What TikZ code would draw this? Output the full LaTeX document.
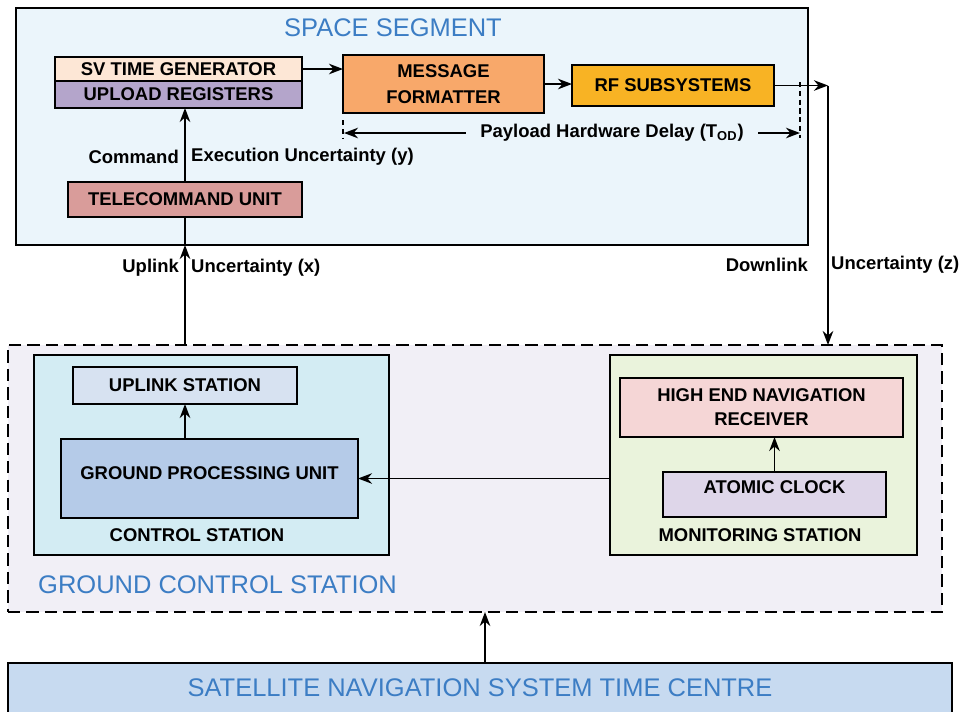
\documentclass[tikz,border=0pt]{standalone}
\usepackage{fontspec}
\setmainfont{Liberation Sans}
\usepackage{tikz}
\usetikzlibrary{%
  arrows.meta%
}

\definecolor{titleblue}{HTML}{3C7DC4}
\definecolor{segfill}{HTML}{EBF5FB}
\definecolor{svfill}{HTML}{FDE7D6}
\definecolor{regfill}{HTML}{B4A5CB}
\definecolor{fmtfill}{HTML}{F8A86A}
\definecolor{rffill}{HTML}{F8B324}
\definecolor{tcfill}{HTML}{D99C9A}
\definecolor{gcsfill}{HTML}{F1EFF6}
\definecolor{ctlfill}{HTML}{D3ECF3}
\definecolor{upfill}{HTML}{D7E2F1}
\definecolor{gpufill}{HTML}{B5CBE8}
\definecolor{monfill}{HTML}{EAF3DC}
\definecolor{rxfill}{HTML}{F5D6D6}
\definecolor{clkfill}{HTML}{DED6E9}
\definecolor{timefill}{HTML}{C7DAF0}

\begin{document}
\begin{tikzpicture}[
    group/.style={draw=black,line width=1.1pt,inner sep=0pt,outer sep=0pt},
    unit/.style={group,align=center,font=\fontsize{10.5}{13.5}\selectfont\bfseries},
    title/.style={text=titleblue,font=\fontsize{14.5}{17}\selectfont},
    note/.style={font=\fontsize{10.5}{12.6}\selectfont\bfseries},
    link/.style={-{Stealth[length=8pt,width=6pt]},line width=1.1pt},
    wire/.style={line width=1.1pt},
    marker/.style={line width=0.9pt,dash pattern=on 3pt off 2pt}
  ]
      \useasboundingbox [fill=white] (0,0) rectangle (19.36,-14.22);

      % space segment
      \node [group,fill=segfill,minimum width=15.84cm,minimum height=4.74cm] (space) at (8.24,-2.53) {};
      \node [title] (spacetitle) at (7.86,-0.56) {SPACE SEGMENT};
      \node [unit,fill=svfill,minimum width=4.94cm,minimum height=0.48cm] (svtime) at (3.57,-1.38) {SV TIME GENERATOR};
      \node [unit,fill=regfill,minimum width=4.94cm,minimum height=0.54cm] (upload) at (3.57,-1.89) {UPLOAD REGISTERS};
      \node [unit,fill=fmtfill,minimum width=4.02cm,minimum height=1.16cm] (formatter) at (8.87,-1.68) {MESSAGE\\[1pt]FORMATTER};
      \node [unit,fill=rffill,minimum width=4.04cm,minimum height=0.82cm] (rf) at (13.46,-1.71) {RF SUBSYSTEMS};
      \node [unit,fill=tcfill,minimum width=4.68cm,minimum height=0.70cm] (telecmd) at (3.70,-3.99) {TELECOMMAND UNIT};
      \coordinate (out) at (16.56,0);
      \coordinate (dl) at (6.88,-2.66);
      \coordinate (dr) at (16.00,-2.66);

      % ground control station
      \node [group,line width=0.9pt,dash pattern=on 7pt off 3.5pt,fill=gcsfill,minimum width=18.68cm,minimum height=5.34cm] (gcs) at (9.50,-9.57) {};
      \node [group,fill=ctlfill,minimum width=7.10cm,minimum height=4.00cm] (control) at (4.23,-9.10) {};
      \node [unit,fill=upfill,minimum width=4.48cm,minimum height=0.74cm] (uplink) at (3.70,-7.71) {UPLINK STATION};
      \node [unit,fill=gpufill,text depth=6pt,minimum width=5.94cm,minimum height=1.58cm] (gpu) at (4.19,-9.57) {GROUND PROCESSING UNIT};
      \node [note] (ctlname) at (3.94,-10.70) {CONTROL STATION};
      \node [group,fill=monfill,minimum width=6.14cm,minimum height=4.00cm] (monitor) at (15.27,-9.10) {};
      \node [unit,fill=rxfill,minimum width=5.66cm,minimum height=1.18cm] (receiver) at (15.23,-8.15) {HIGH END NAVIGATION\\RECEIVER};
      \node [unit,fill=clkfill,text depth=8pt,minimum width=4.46cm,minimum height=0.90cm] (clock) at (15.49,-9.89) {ATOMIC CLOCK};
      \node [note] (monname) at (15.20,-10.70) {MONITORING STATION};
      \node [title,anchor=west] (gcstitle) at (0.64,-11.70) {GROUND CONTROL STATION};

      % time centre
      \node [group,fill=timefill,text=titleblue,font=\fontsize{14.5}{17}\selectfont,minimum width=18.88cm,minimum height=1.00cm] (centre) at (9.60,-13.76) {SATELLITE NAVIGATION SYSTEM TIME CENTRE};
      \coordinate (feed) at (9.70,0);

      % signal paths
      \draw [link] (svtime.east) -- (svtime.east -| formatter.west);
      \draw [link] (formatter.east) -- (formatter.east -| rf.west);
      \draw [link] (rf.east) -- (rf.east -| out);
      \draw [link] (rf.east -| out) -- (out |- gcs.north);
      \draw [link] (telecmd.north) -- (telecmd.north |- upload.south);
      \draw [link] (telecmd.south |- gcs.north) -- (telecmd.south |- space.south);
      \draw [wire] (telecmd.south |- space.south) -- (telecmd.south);
      \draw [link] (uplink.south |- gpu.north) -- (uplink.south);
      \draw [link] (clock.north) -- (clock.north |- receiver.south);
      \draw [link] (gpu.east -| monitor.west) -- (gpu.east);
      \draw [link] (feed |- centre.north) -- (feed |- gcs.south);

      % payload delay span
      \node [note,inner xsep=8pt] (delay) at (12.24,-2.66) {Payload Hardware Delay (T\textsubscript{OD})};
      \draw [link] (delay.west) -- (dl);
      \draw [link] (delay.east) -- (dr);
      \draw [marker] (6.86,-2.40) -- (6.86,-2.76);
      \draw [marker] (16.00,-1.64) -- (16.00,-2.76);

      % uncertainty labels
      \node [note,left] (cmdleft) at (3.70,-3.14) {Command};
      \node [note,right] (cmdright) at (3.70,-3.14) {Execution Uncertainty (y)};
      \node [note,left] (upleft) at (3.70,-5.36) {Uplink};
      \node [note,right] (upright) at (3.70,-5.36) {Uncertainty (x)};
      \node [note,left] (downleft) at (16.28,-5.30) {Downlink};
      \node [note,right] (downright) at (16.50,-5.30) {Uncertainty (z)};
\end{tikzpicture}
\end{document}
